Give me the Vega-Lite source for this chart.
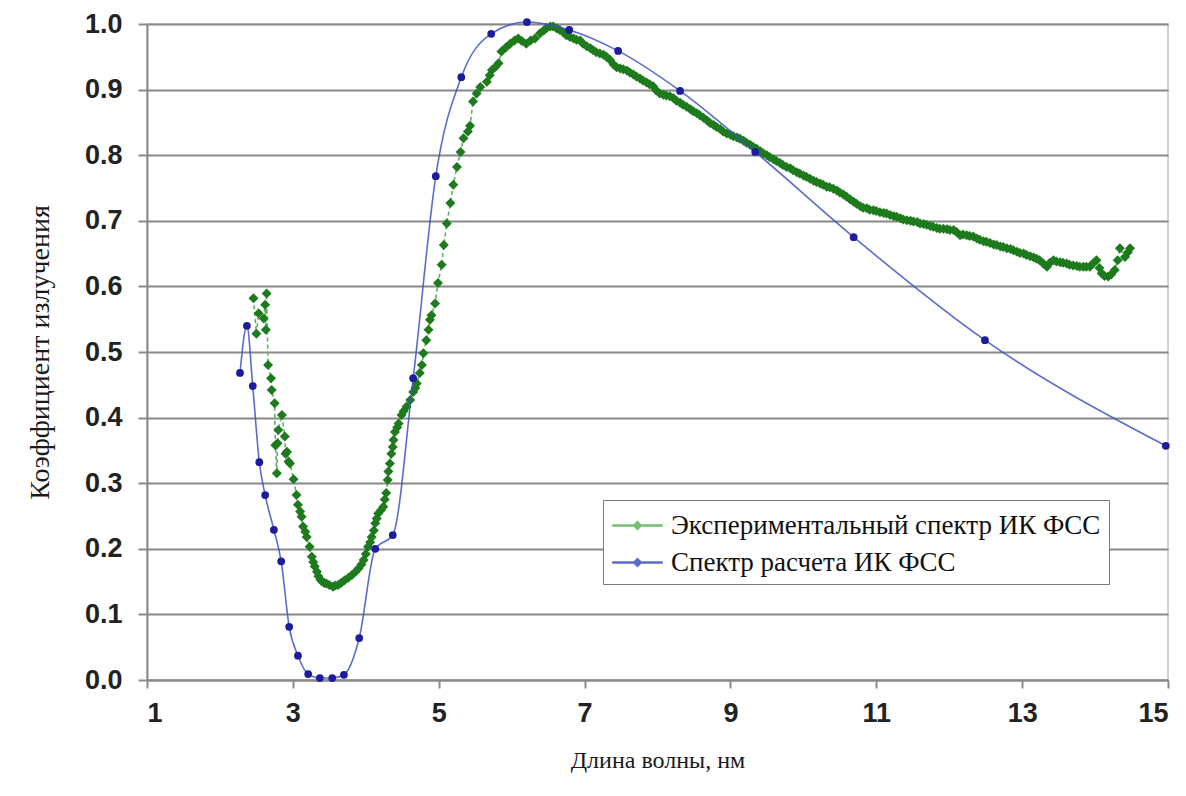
{
  "$schema": "https://vega.github.io/schema/vega-lite/v6.json",
  "width": 1021,
  "height": 656,
  "autosize": {"type": "none"},
  "padding": {"left": 147, "top": 24, "right": 18, "bottom": 116},
  "background": "white",
  "datasets": {
    "green": [
      {"x":2.46,"y":0.582},{"x":2.50,"y":0.528},{"x":2.53,"y":0.559},{"x":2.60,"y":0.551},{"x":2.62,"y":0.572},{"x":2.63,"y":0.534},{"x":2.64,"y":0.589},{"x":2.66,"y":0.480},{"x":2.70,"y":0.460},{"x":2.71,"y":0.442},{"x":2.75,"y":0.422},{"x":2.76,"y":0.358},{"x":2.78,"y":0.315},{"x":2.79,"y":0.361},{"x":2.80,"y":0.381},{"x":2.85,"y":0.404},{"x":2.89,"y":0.371},{"x":2.90,"y":0.345},{"x":2.92,"y":0.348},{"x":2.94,"y":0.333},{"x":2.96,"y":0.330},{"x":3.01,"y":0.306},{"x":3.05,"y":0.282},{"x":3.07,"y":0.267},{"x":3.10,"y":0.257},{"x":3.12,"y":0.249},{"x":3.14,"y":0.234},{"x":3.17,"y":0.226},{"x":3.19,"y":0.218},{"x":3.23,"y":0.203},{"x":3.26,"y":0.188},{"x":3.28,"y":0.180},{"x":3.30,"y":0.173},{"x":3.33,"y":0.165},{"x":3.35,"y":0.158},{"x":3.38,"y":0.153},{"x":3.40,"y":0.150},{"x":3.43,"y":0.148},{"x":3.46,"y":0.147},{"x":3.50,"y":0.145},{"x":3.55,"y":0.142},{"x":3.58,"y":0.144},{"x":3.62,"y":0.145},{"x":3.66,"y":0.148},{"x":3.71,"y":0.152},{"x":3.76,"y":0.156},{"x":3.81,"y":0.160},{"x":3.86,"y":0.165},{"x":3.90,"y":0.170},{"x":3.94,"y":0.176},{"x":3.97,"y":0.183},{"x":4.00,"y":0.192},{"x":4.03,"y":0.203},{"x":4.06,"y":0.210},{"x":4.08,"y":0.218},{"x":4.11,"y":0.228},{"x":4.13,"y":0.239},{"x":4.15,"y":0.246},{"x":4.17,"y":0.254},{"x":4.21,"y":0.259},{"x":4.24,"y":0.264},{"x":4.26,"y":0.275},{"x":4.28,"y":0.285},{"x":4.30,"y":0.305},{"x":4.31,"y":0.318},{"x":4.33,"y":0.330},{"x":4.35,"y":0.345},{"x":4.37,"y":0.355},{"x":4.38,"y":0.366},{"x":4.40,"y":0.378},{"x":4.43,"y":0.385},{"x":4.45,"y":0.391},{"x":4.49,"y":0.404},{"x":4.52,"y":0.410},{"x":4.56,"y":0.417},{"x":4.61,"y":0.427},{"x":4.65,"y":0.439},{"x":4.68,"y":0.445},{"x":4.70,"y":0.452},{"x":4.74,"y":0.468},{"x":4.77,"y":0.480},{"x":4.79,"y":0.498},{"x":4.83,"y":0.518},{"x":4.86,"y":0.534},{"x":4.88,"y":0.549},{"x":4.90,"y":0.556},{"x":4.95,"y":0.574},{"x":4.99,"y":0.605},{"x":5.04,"y":0.633},{"x":5.07,"y":0.663},{"x":5.11,"y":0.696},{"x":5.16,"y":0.727},{"x":5.20,"y":0.755},{"x":5.25,"y":0.782},{"x":5.30,"y":0.805},{"x":5.34,"y":0.826},{"x":5.40,"y":0.836},{"x":5.43,"y":0.845},{"x":5.47,"y":0.882},{"x":5.52,"y":0.894},{"x":5.57,"y":0.904},{"x":5.66,"y":0.912},{"x":5.70,"y":0.922},{"x":5.73,"y":0.930},{"x":5.78,"y":0.935},{"x":5.82,"y":0.940},{"x":5.86,"y":0.958},{"x":5.92,"y":0.964},{"x":5.98,"y":0.970},{"x":6.04,"y":0.975},{"x":6.09,"y":0.978},{"x":6.14,"y":0.974},{"x":6.20,"y":0.970},{"x":6.26,"y":0.975},{"x":6.32,"y":0.978},{"x":6.39,"y":0.986},{"x":6.44,"y":0.990},{"x":6.48,"y":0.994},{"x":6.53,"y":0.996},{"x":6.57,"y":0.996},{"x":6.62,"y":0.993},{"x":6.66,"y":0.991},{"x":6.71,"y":0.987},{"x":6.75,"y":0.983},{"x":6.80,"y":0.980},{"x":6.85,"y":0.978},{"x":6.89,"y":0.976},{"x":6.94,"y":0.975},{"x":6.98,"y":0.970},{"x":7.03,"y":0.966},{"x":7.08,"y":0.963},{"x":7.12,"y":0.960},{"x":7.16,"y":0.957},{"x":7.21,"y":0.955},{"x":7.26,"y":0.953},{"x":7.30,"y":0.950},{"x":7.35,"y":0.945},{"x":7.40,"y":0.938},{"x":7.44,"y":0.934},{"x":7.49,"y":0.932},{"x":7.53,"y":0.931},{"x":7.58,"y":0.929},{"x":7.62,"y":0.926},{"x":7.67,"y":0.923},{"x":7.71,"y":0.920},{"x":7.76,"y":0.917},{"x":7.80,"y":0.914},{"x":7.85,"y":0.911},{"x":7.89,"y":0.908},{"x":7.94,"y":0.905},{"x":7.98,"y":0.899},{"x":8.03,"y":0.894},{"x":8.08,"y":0.892},{"x":8.12,"y":0.891},{"x":8.17,"y":0.890},{"x":8.22,"y":0.887},{"x":8.26,"y":0.883},{"x":8.31,"y":0.880},{"x":8.35,"y":0.877},{"x":8.40,"y":0.874},{"x":8.45,"y":0.870},{"x":8.49,"y":0.867},{"x":8.54,"y":0.864},{"x":8.58,"y":0.861},{"x":8.63,"y":0.857},{"x":8.68,"y":0.853},{"x":8.72,"y":0.849},{"x":8.77,"y":0.846},{"x":8.81,"y":0.843},{"x":8.86,"y":0.840},{"x":8.90,"y":0.836},{"x":8.95,"y":0.833},{"x":9.00,"y":0.831},{"x":9.04,"y":0.829},{"x":9.09,"y":0.827},{"x":9.13,"y":0.825},{"x":9.18,"y":0.822},{"x":9.22,"y":0.819},{"x":9.27,"y":0.816},{"x":9.31,"y":0.813},{"x":9.36,"y":0.810},{"x":9.41,"y":0.806},{"x":9.45,"y":0.803},{"x":9.50,"y":0.800},{"x":9.54,"y":0.797},{"x":9.59,"y":0.794},{"x":9.63,"y":0.791},{"x":9.68,"y":0.788},{"x":9.72,"y":0.785},{"x":9.77,"y":0.782},{"x":9.82,"y":0.780},{"x":9.86,"y":0.777},{"x":9.91,"y":0.774},{"x":9.95,"y":0.772},{"x":10.00,"y":0.769},{"x":10.04,"y":0.767},{"x":10.09,"y":0.764},{"x":10.14,"y":0.761},{"x":10.18,"y":0.759},{"x":10.23,"y":0.757},{"x":10.27,"y":0.755},{"x":10.32,"y":0.752},{"x":10.36,"y":0.751},{"x":10.41,"y":0.749},{"x":10.46,"y":0.746},{"x":10.50,"y":0.743},{"x":10.55,"y":0.740},{"x":10.59,"y":0.737},{"x":10.64,"y":0.733},{"x":10.69,"y":0.729},{"x":10.73,"y":0.726},{"x":10.78,"y":0.722},{"x":10.82,"y":0.720},{"x":10.87,"y":0.719},{"x":10.91,"y":0.717},{"x":10.96,"y":0.716},{"x":11.00,"y":0.715},{"x":11.05,"y":0.713},{"x":11.10,"y":0.712},{"x":11.14,"y":0.711},{"x":11.19,"y":0.709},{"x":11.24,"y":0.707},{"x":11.28,"y":0.706},{"x":11.33,"y":0.704},{"x":11.37,"y":0.702},{"x":11.42,"y":0.701},{"x":11.47,"y":0.700},{"x":11.51,"y":0.699},{"x":11.56,"y":0.698},{"x":11.60,"y":0.696},{"x":11.65,"y":0.695},{"x":11.69,"y":0.694},{"x":11.74,"y":0.692},{"x":11.78,"y":0.691},{"x":11.83,"y":0.689},{"x":11.87,"y":0.688},{"x":11.92,"y":0.688},{"x":11.97,"y":0.687},{"x":12.01,"y":0.686},{"x":12.06,"y":0.686},{"x":12.10,"y":0.683},{"x":12.15,"y":0.678},{"x":12.19,"y":0.679},{"x":12.24,"y":0.678},{"x":12.28,"y":0.677},{"x":12.33,"y":0.676},{"x":12.38,"y":0.673},{"x":12.42,"y":0.671},{"x":12.47,"y":0.669},{"x":12.51,"y":0.668},{"x":12.56,"y":0.666},{"x":12.61,"y":0.664},{"x":12.65,"y":0.663},{"x":12.70,"y":0.661},{"x":12.74,"y":0.660},{"x":12.79,"y":0.658},{"x":12.84,"y":0.657},{"x":12.88,"y":0.655},{"x":12.93,"y":0.653},{"x":12.97,"y":0.651},{"x":13.02,"y":0.650},{"x":13.06,"y":0.648},{"x":13.11,"y":0.646},{"x":13.16,"y":0.644},{"x":13.20,"y":0.642},{"x":13.24,"y":0.640},{"x":13.29,"y":0.635},{"x":13.34,"y":0.630},{"x":13.38,"y":0.636},{"x":13.43,"y":0.640},{"x":13.47,"y":0.638},{"x":13.52,"y":0.637},{"x":13.56,"y":0.636},{"x":13.61,"y":0.635},{"x":13.65,"y":0.633},{"x":13.70,"y":0.632},{"x":13.75,"y":0.631},{"x":13.79,"y":0.630},{"x":13.84,"y":0.630},{"x":13.88,"y":0.630},{"x":13.93,"y":0.630},{"x":13.97,"y":0.635},{"x":14.02,"y":0.640},{"x":14.06,"y":0.628},{"x":14.09,"y":0.620},{"x":14.13,"y":0.616},{"x":14.18,"y":0.615},{"x":14.22,"y":0.618},{"x":14.27,"y":0.625},{"x":14.31,"y":0.640},{"x":14.34,"y":0.658},{"x":14.41,"y":0.645},{"x":14.45,"y":0.652},{"x":14.48,"y":0.658}
    ],
    "blue": [
      {"x":2.275,"y":0.468},{"x":2.37,"y":0.540},{"x":2.45,"y":0.448},{"x":2.54,"y":0.332},{"x":2.62,"y":0.282},{"x":2.74,"y":0.229},{"x":2.84,"y":0.181},{"x":2.95,"y":0.081},{"x":3.07,"y":0.037},{"x":3.21,"y":0.009},{"x":3.37,"y":0.003},{"x":3.54,"y":0.003},{"x":3.70,"y":0.008},{"x":3.91,"y":0.064},{"x":4.13,"y":0.200},{"x":4.37,"y":0.221},{"x":4.65,"y":0.460},{"x":4.96,"y":0.768},{"x":5.31,"y":0.919},{"x":5.72,"y":0.985},{"x":6.21,"y":1.003},{"x":6.79,"y":0.991},{"x":7.46,"y":0.959},{"x":8.31,"y":0.898},{"x":9.34,"y":0.805},{"x":10.69,"y":0.675},{"x":12.49,"y":0.518},{"x":14.97,"y":0.357}
    ]
  },
  "encoding": {
    "x": {
      "field": "x", "type": "quantitative",
      "scale": {"domain": [1, 15], "nice": false, "zero": false},
      "axis": {
        "title": "Длина волны, нм",
        "values": [1, 3, 5, 7, 9, 11, 13, 15],
        "grid": false,
        "labelFont": "Liberation Sans", "labelFontSize": 27, "labelFontWeight": "bold", "labelColor": "#222222", "labelPadding": 12,
        "tickSize": 8, "tickColor": "#8a8a8a", "tickWidth": 2,
        "domainColor": "#8a8a8a", "domainWidth": 2,
        "titleFont": "Liberation Serif", "titleFontSize": 24, "titleFontWeight": "normal", "titleColor": "#1a1a1a", "titlePadding": 22
      }
    },
    "y": {
      "field": "y", "type": "quantitative",
      "scale": {"domain": [0, 1], "nice": false},
      "axis": {
        "title": "Коэффициент излучения",
        "values": [0, 0.1, 0.2, 0.3, 0.4, 0.5, 0.6, 0.7, 0.8, 0.9, 1.0],
        "format": ".1f",
        "grid": true, "gridColor": "#888888", "gridWidth": 2,
        "labelFont": "Liberation Sans", "labelFontSize": 27, "labelFontWeight": "bold", "labelColor": "#222222", "labelPadding": 16,
        "tickSize": 9, "tickColor": "#8a8a8a", "tickWidth": 2,
        "domainColor": "#8a8a8a", "domainWidth": 2,
        "titleFont": "Liberation Serif", "titleFontSize": 28, "titleFontWeight": "normal", "titleColor": "#1a1a1a", "titlePadding": 30
      }
    }
  },
  "layer": [
    {
      "data": {"name": "green"},
      "mark": {"type": "line", "strokeWidth": 1.6, "strokeDash": [4, 3]},
      "encoding": {
        "color": {
          "datum": "Экспериментальный спектр ИК ФСС",
          "type": "nominal",
          "scale": {"domain": ["Экспериментальный спектр ИК ФСС", "Спектр расчета ИК ФСС"], "range": ["#5fb35f", "#3f52c4"]},
          "legend": {
            "title": null,
            "orient": "none", "legendX": 456, "legendY": 476,
            "fillColor": "white", "strokeColor": "#7a7a7a", "padding": 8,
            "labelFont": "Liberation Serif", "labelFontSize": 27, "labelColor": "#111111", "labelLimit": 700,
            "symbolType": "M-1.6,0L1.6,0M-0.2,0L0,-0.2L0.2,0L0,0.2Z",
            "symbolSize": 1000, "symbolStrokeWidth": 2.5, "symbolOffset": 9, "labelOffset": 16, "rowPadding": 6
          }
        }
      }
    },
    {
      "data": {"name": "green"},
      "mark": {"type": "point", "shape": "diamond", "filled": true, "size": 100, "opacity": 1, "color": "#1d7a1d"}
    },
    {
      "data": {"name": "blue"},
      "mark": {"type": "line", "strokeWidth": 1.6, "interpolate": "monotone", "opacity": 0.85},
      "encoding": {
        "color": {"datum": "Спектр расчета ИК ФСС", "type": "nominal"}
      }
    },
    {
      "data": {"name": "blue"},
      "mark": {"type": "point", "shape": "circle", "filled": true, "size": 60, "opacity": 1, "color": "#1c1c9c"}
    }
  ],
  "config": {
    "view": {"stroke": "#c4c4c4", "strokeWidth": 1.5}
  }
}
